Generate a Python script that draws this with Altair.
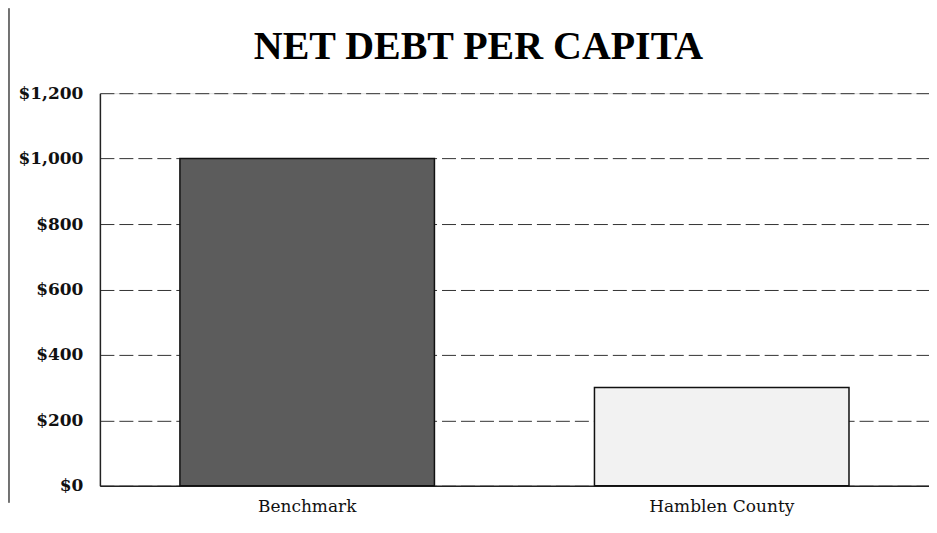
import altair as alt
import pandas as pd

title_text = ["NET DEBT PER CAPITA"]
categories = ["Benchmark", "Hamblen County"]
values = [1000, 300]
fills = ["#5c5c5c", "#f2f2f2"]
y_ticks = [0, 200, 400, 600, 800, 1000, 1200]

df = pd.DataFrame({"category": categories, "value": values, "fill": fills})
tdf = pd.DataFrame({"t": title_text})

x_enc = alt.X(
    "category:N",
    sort=categories,
    title=None,
    scale=alt.Scale(paddingInner=0.386, paddingOuter=0.193),
    axis=alt.Axis(
        labelAngle=0,
        labelFont="DejaVu Serif",
        labelFontSize=17,
        labelColor="#111",
        labelPadding=13,
        ticks=False,
        domainColor="#222",
        domainWidth=1.5,
        grid=False,
    ),
)
y_enc = alt.Y(
    "value:Q",
    title=None,
    scale=alt.Scale(domain=[0, 1200], nice=False),
    axis=alt.Axis(
        values=y_ticks,
        format="$,.0f",
        labelFont="DejaVu Serif",
        labelFontWeight="bold",
        labelFontSize=17,
        labelColor="#111",
        labelPadding=17,
        ticks=False,
        domainColor="#222",
        domainWidth=1.5,
        grid=True,
        gridColor="#333",
        gridDash=[14, 5],
        gridWidth=1,
    ),
)

bars = alt.Chart(df).mark_bar(stroke="#111", strokeWidth=1.5).encode(
    x=x_enc,
    y=y_enc,
    fill=alt.Fill("fill:N", scale=None),
)

frame = alt.Chart(df).mark_rule(color="#444", strokeWidth=1).encode(
    x=alt.value(-91), y=alt.value(-85), y2=alt.value(410)
)

title = alt.Chart(tdf).mark_text(
    font="Liberation Serif",
    fontSize=40,
    fontWeight="bold",
    color="black",
    align="center",
    baseline="alphabetic",
).encode(text="t:N", x=alt.value(379), y=alt.value(-34))

chart = (
    alt.layer(bars, frame, title)
    .properties(
        width=830,
        height=393,
        autosize=alt.AutoSizeParams(type="none"),
        padding={"left": 92, "top": 85, "right": 0, "bottom": 30},
    )
    .configure_view(stroke=None)
    .configure(background="white")
)

chart.save("out.html", embed_options={"renderer": "svg", "actions": False})
